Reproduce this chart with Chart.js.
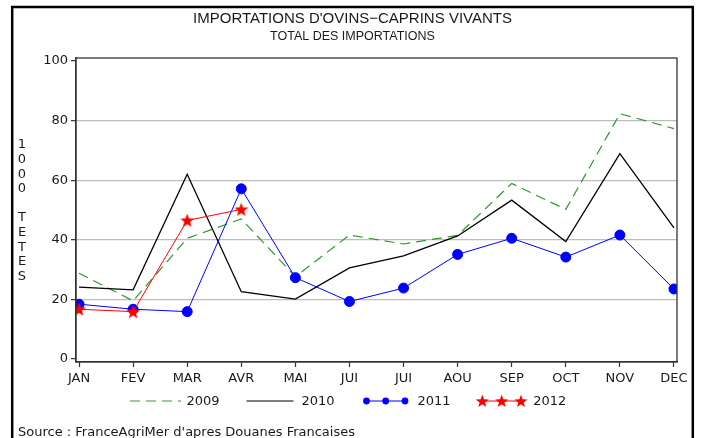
<!DOCTYPE html>
<html>
<head>
<meta charset="utf-8">
<script src="https://cdn.jsdelivr.net/npm/chart.js@4"></script>
<style>
  body { margin: 0; background: #fff; }
  #chart { display: block; }
</style>
</head>
<body>
<canvas id="chart" width="701" height="438"></canvas>
<script>
// data (thousands of head)
const MONTHS = ['JAN', 'FEV', 'MAR', 'AVR', 'MAI', 'JUI', 'JUI', 'AOU', 'SEP', 'OCT', 'NOV', 'DEC'];
const V2009 = [28.8, 19.5, 40.5, 47.0, 27.6, 41.6, 38.6, 41.5, 58.9, 50.2, 82.3, 77.3];
const V2010 = [24.1, 23.2, 62.0, 22.6, 20.1, 30.6, 34.6, 41.3, 53.3, 39.4, 68.9, 44.0];
const V2011 = [18.4, 16.7, 15.9, 57.1, 27.3, 19.3, 23.8, 35.1, 40.5, 34.2, 41.6, 23.5];
const V2012 = [16.7, 15.9, 46.5, 50.2];
const Y_TICKS = [0, 20, 40, 60, 80, 100];

const TITLE = "IMPORTATIONS D'OVINS\u2212CAPRINS VIVANTS";
const SUBTITLE = 'TOTAL DES IMPORTATIONS';
const Y_LABEL = '1000 TETES';
const SOURCE = "Source : FranceAgriMer d'apres Douanes Francaises";

const FONT = '"DejaVu Sans", sans-serif';
const TITLE_FONT = '"Liberation Sans", Arial, sans-serif';
const TEXT = '#1a1a1a';

// filled five point star
function drawStar(ctx, cx, cy, r) {
  ctx.beginPath();
  for (let i = 0; i < 10; i++) {
    const rad = i % 2 === 0 ? r : r * 0.42;
    const a = -Math.PI / 2 + i * Math.PI / 5;
    const x = cx + rad * Math.cos(a);
    const y = cy + rad * Math.sin(a);
    if (i === 0) ctx.moveTo(x, y); else ctx.lineTo(x, y);
  }
  ctx.closePath();
  ctx.fill();
}

const starImg = document.createElement('canvas');
starImg.width = 16;
starImg.height = 16;
(function () {
  const c = starImg.getContext('2d');
  c.fillStyle = '#ff0000';
  drawStar(c, 8, 8.6, 7.3);
})();

const toPoints = (arr) => arr.map((v, i) => ({ x: i, y: v }));

// titles, frame, vertical axis label, legend and source line
const decorations = {
  id: 'decorations',
  afterDraw(chart) {
    const ctx = chart.ctx;
    const area = chart.chartArea;
    ctx.save();

    // outer frame
    ctx.strokeStyle = '#000';
    ctx.lineWidth = 2.5;
    ctx.strokeRect(12.2, 7, 680.6, 460);

    // plot box
    ctx.strokeStyle = '#333';
    ctx.lineWidth = 1.3;
    ctx.strokeRect(area.left, area.top, area.right - area.left, area.bottom - area.top);

    // titles
    ctx.fillStyle = TEXT;
    ctx.textAlign = 'center';
    ctx.textBaseline = 'alphabetic';
    ctx.font = '15px ' + TITLE_FONT;
    ctx.fillText(TITLE, 352.5, 23.3);
    ctx.font = '12.5px ' + TITLE_FONT;
    ctx.fillText(SUBTITLE, 352.5, 40);

    // stacked axis label
    ctx.font = '13px ' + FONT;
    ctx.textBaseline = 'middle';
    Y_LABEL.split('').forEach((ch, i) => {
      ctx.fillText(ch, 22, 145 + i * 14.6);
    });

    // legend
    const ly = 401;
    ctx.textAlign = 'left';
    ctx.lineWidth = 1.2;

    ctx.strokeStyle = '#2e9a2e';
    ctx.setLineDash([10, 6]);
    ctx.beginPath(); ctx.moveTo(130, ly); ctx.lineTo(181, ly); ctx.stroke();
    ctx.setLineDash([]);
    ctx.fillText('2009', 186.5, ly + 0.5);

    ctx.strokeStyle = '#000';
    ctx.beginPath(); ctx.moveTo(246.5, ly); ctx.lineTo(293.5, ly); ctx.stroke();
    ctx.fillText('2010', 301.5, ly + 0.5);

    ctx.strokeStyle = '#0000ff';
    ctx.lineWidth = 1;
    ctx.beginPath(); ctx.moveTo(366.5, ly); ctx.lineTo(405, ly); ctx.stroke();
    ctx.fillStyle = '#0000ff';
    [366.5, 385.7, 405].forEach((x) => {
      ctx.beginPath(); ctx.arc(x, ly, 3.4, 0, Math.PI * 2); ctx.fill();
    });
    ctx.fillStyle = TEXT;
    ctx.fillText('2011', 417.5, ly + 0.5);

    ctx.strokeStyle = '#ff0000';
    ctx.beginPath(); ctx.moveTo(482, ly); ctx.lineTo(521, ly); ctx.stroke();
    ctx.fillStyle = '#ff0000';
    [482.3, 501.7, 521].forEach((x) => drawStar(ctx, x, ly + 0.5, 6.8));
    ctx.fillStyle = TEXT;
    ctx.fillText('2012', 533.3, ly + 0.5);

    // source
    ctx.textBaseline = 'alphabetic';
    ctx.fillText(SOURCE, 18, 435.5);

    ctx.restore();
  }
};

new Chart(document.getElementById('chart'), {
  type: 'line',
  data: {
    datasets: [
      {
        label: '2012',
        data: toPoints(V2012),
        borderColor: '#ff0000',
        borderWidth: 1,
        pointStyle: starImg,
        pointRadius: 7,
        order: 0
      },
      {
        label: '2011',
        data: toPoints(V2011),
        borderColor: '#0000ff',
        backgroundColor: '#0000ff',
        borderWidth: 1,
        pointStyle: 'circle',
        pointRadius: 5,
        order: 1
      },
      {
        label: '2010',
        data: toPoints(V2010),
        borderColor: '#000000',
        borderWidth: 1.3,
        pointRadius: 0,
        order: 2
      },
      {
        label: '2009',
        data: toPoints(V2009),
        borderColor: '#2e9a2e',
        borderWidth: 1.2,
        borderDash: [10, 6],
        pointRadius: 0,
        order: 3
      }
    ]
  },
  options: {
    responsive: false,
    animation: false,
    layout: { padding: { left: 0, right: 24, top: 58, bottom: 46 } },
    plugins: {
      legend: { display: false },
      title: { display: false },
      tooltip: { enabled: false }
    },
    scales: {
      x: {
        type: 'linear',
        min: -0.056,
        max: 11.056,
        afterBuildTicks: (scale) => { scale.ticks = MONTHS.map((m, i) => ({ value: i })); },
        afterFit: (scale) => { scale.height = 30; },
        ticks: {
          autoSkip: false,
          maxRotation: 0,
          padding: 4,
          color: TEXT,
          font: { family: FONT, size: 13 },
          callback: (v) => MONTHS[v]
        },
        grid: { drawOnChartArea: false, tickLength: 5, tickColor: '#333', tickWidth: 1.2 },
        border: { color: '#333', width: 1.3 }
      },
      y: {
        min: -1,
        max: 101,
        afterBuildTicks: (scale) => { scale.ticks = Y_TICKS.map((v) => ({ value: v })); },
        afterFit: (scale) => { scale.width = 76; },
        ticks: {
          padding: 3,
          color: TEXT,
          font: { family: FONT, size: 13 }
        },
        grid: {
          color: (c) => (c.tick && (c.tick.value === 0 || c.tick.value === 100)) ? 'rgba(0,0,0,0)' : '#bdbdbd',
          lineWidth: 1.3,
          tickLength: 5,
          tickColor: '#333',
          tickWidth: 1.2
        },
        border: { color: '#333', width: 1.3 }
      }
    }
  },
  plugins: [decorations]
});
</script>
</body>
</html>
